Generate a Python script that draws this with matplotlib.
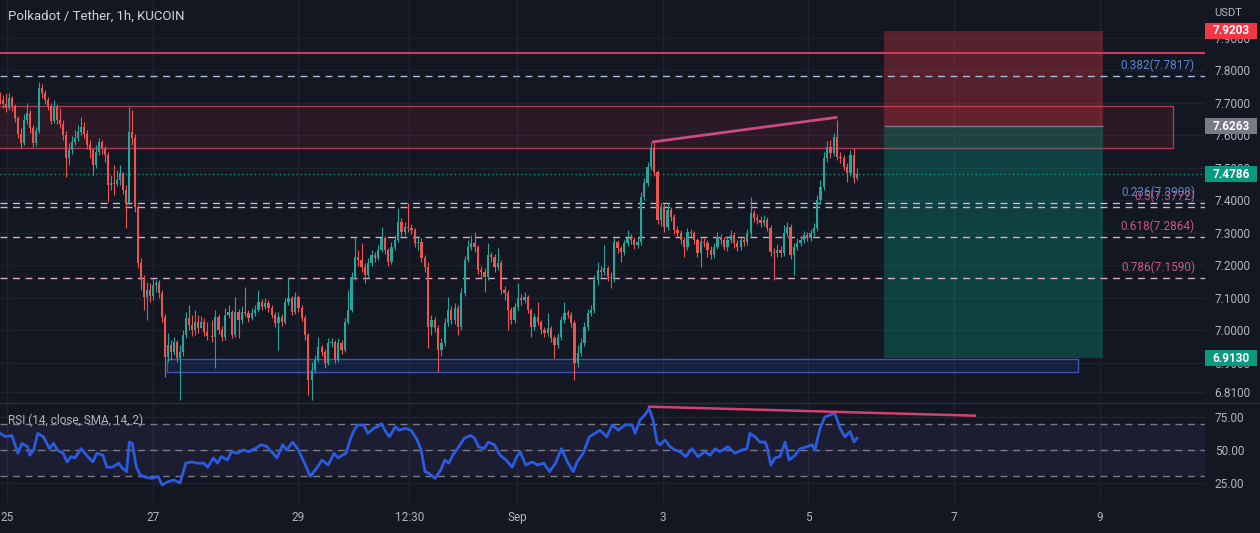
import numpy as np
import matplotlib
matplotlib.use("Agg")
import matplotlib.pyplot as plt
from matplotlib.patches import Rectangle
from matplotlib.lines import Line2D

plt.rcParams['font.family'] = ['Roboto', 'DejaVu Sans']

# ---- data (1h candles, DOT/USDT) ----
first_open = 7.717
closes = [
    7.708, 7.695, 7.683, 7.714, 7.689, 7.652, 7.603, 7.575, 7.646, 7.668,
    7.622, 7.575, 7.612, 7.745, 7.729, 7.708, 7.689, 7.643, 7.686, 7.646,
    7.634, 7.600, 7.529, 7.554, 7.578, 7.591, 7.609, 7.625, 7.603, 7.569,
    7.554, 7.508, 7.548, 7.578, 7.557, 7.538, 7.446, 7.452, 7.449, 7.462,
    7.483, 7.431, 7.391, 7.609, 7.591, 7.378, 7.206, 7.154, 7.102, 7.123,
    7.105, 7.138, 7.145, 7.114, 7.040, 6.917, 6.954, 6.932, 6.963, 6.914,
    6.932, 6.985, 7.037, 7.015, 7.000, 7.025, 7.006, 7.025, 6.994, 6.982,
    6.978, 7.040, 7.000, 6.978, 7.046, 7.055, 6.985, 7.055, 7.031, 7.055,
    7.052, 7.037, 7.052, 7.062, 7.086, 7.071, 7.083, 7.068, 7.046, 7.022,
    7.040, 7.025, 7.086, 7.098, 7.055, 7.102, 7.068, 7.037, 6.985, 6.846,
    6.877, 6.908, 6.948, 6.932, 6.898, 6.960, 6.963, 6.908, 6.960, 6.938,
    7.025, 7.062, 7.163, 7.225, 7.215, 7.194, 7.169, 7.206, 7.231, 7.222,
    7.246, 7.283, 7.246, 7.209, 7.255, 7.277, 7.332, 7.302, 7.317, 7.314,
    7.308, 7.268, 7.271, 7.222, 7.194, 7.009, 7.031, 7.006, 6.938, 6.960,
    7.022, 7.062, 7.031, 7.068, 7.009, 7.114, 7.215, 7.255, 7.268, 7.255,
    7.185, 7.178, 7.163, 7.231, 7.225, 7.194, 7.206, 7.123, 7.114, 7.062,
    7.031, 7.071, 7.098, 7.092, 7.102, 7.062, 7.009, 7.040, 7.025, 7.000,
    6.991, 7.006, 6.975, 6.954, 6.978, 7.031, 7.052, 7.046, 7.022, 6.898,
    6.929, 6.960, 7.009, 7.052, 7.062, 7.154, 7.185, 7.178, 7.191, 7.163,
    7.160, 7.271, 7.252, 7.240, 7.268, 7.283, 7.277, 7.262, 7.271,
    7.409, 7.452, 7.502, 7.560, 7.486, 7.338, 7.378, 7.317, 7.369, 7.348, 7.308,
    7.298, 7.277, 7.255, 7.302, 7.298, 7.277, 7.237, 7.271, 7.268, 7.246,
    7.231, 7.255, 7.286, 7.277, 7.255, 7.277, 7.292, 7.268, 7.255, 7.277,
    7.271, 7.298, 7.360, 7.345, 7.338, 7.329, 7.338, 7.314, 7.240, 7.237,
    7.246, 7.237, 7.298, 7.317, 7.231, 7.255, 7.268, 7.277, 7.292, 7.283,
    7.298, 7.314, 7.400, 7.440, 7.529, 7.563, 7.545, 7.594, 7.532, 7.529,
    7.502, 7.483, 7.538, 7.468, 7.4786]
highs = [
    7.732, 7.723, 7.729, 7.729, 7.720, 7.695, 7.658, 7.622, 7.665, 7.699,
    7.677, 7.631, 7.625, 7.763, 7.757, 7.738, 7.717, 7.699, 7.708, 7.695,
    7.683, 7.646, 7.612, 7.575, 7.597, 7.615, 7.631, 7.655, 7.640, 7.615,
    7.585, 7.560, 7.569, 7.591, 7.585, 7.566, 7.548, 7.477, 7.508, 7.492,
    7.508, 7.486, 7.446, 7.686, 7.677, 7.603, 7.385, 7.222, 7.169, 7.148,
    7.145, 7.160, 7.154, 7.154, 7.123, 7.049, 6.991, 6.969, 6.978, 6.969,
    6.954, 7.000, 7.055, 7.077, 7.046, 7.062, 7.046, 7.043, 7.037, 7.025,
    7.031, 7.062, 7.049, 7.012, 7.068, 7.077, 7.062, 7.102, 7.065, 7.074,
    7.132, 7.062, 7.068, 7.077, 7.123, 7.095, 7.098, 7.092, 7.077, 7.055,
    7.055, 7.049, 7.098, 7.160, 7.105, 7.117, 7.108, 7.077, 7.046, 6.991,
    6.902, 6.923, 6.978, 6.954, 6.942, 6.975, 6.975, 6.969, 6.975, 6.969,
    7.037, 7.123, 7.178, 7.286, 7.246, 7.268, 7.206, 7.222, 7.246, 7.240,
    7.262, 7.317, 7.289, 7.252, 7.271, 7.292, 7.375, 7.345, 7.332, 7.391,
    7.326, 7.314, 7.289, 7.283, 7.231, 7.209, 7.046, 7.040, 7.015, 6.975,
    7.037, 7.102, 7.074, 7.083, 7.077, 7.129, 7.228, 7.277, 7.292, 7.302,
    7.262, 7.197, 7.191, 7.268, 7.240, 7.234, 7.252, 7.215, 7.135, 7.123,
    7.071, 7.083, 7.145, 7.111, 7.117, 7.108, 7.068, 7.052, 7.086, 7.031,
    7.009, 7.052, 7.012, 6.985, 6.991, 7.043, 7.086, 7.062, 7.055, 7.031,
    6.954, 6.975, 7.025, 7.065, 7.077, 7.169, 7.209, 7.197, 7.262, 7.197,
    7.178, 7.283, 7.277, 7.258, 7.277, 7.308, 7.295, 7.286, 7.286,
    7.425, 7.468, 7.517, 7.578, 7.578, 7.492, 7.394, 7.388, 7.391, 7.378, 7.357,
    7.320, 7.308, 7.286, 7.314, 7.311, 7.305, 7.283, 7.283, 7.283, 7.277,
    7.258, 7.268, 7.302, 7.295, 7.286, 7.289, 7.308, 7.302, 7.277, 7.289,
    7.286, 7.311, 7.409, 7.369, 7.357, 7.351, 7.354, 7.348, 7.323, 7.252,
    7.265, 7.258, 7.323, 7.332, 7.326, 7.268, 7.283, 7.289, 7.305, 7.302,
    7.311, 7.329, 7.415, 7.462, 7.548, 7.582, 7.585, 7.606, 7.646, 7.548,
    7.538, 7.514, 7.554, 7.560, 7.498]
lows = [
    7.695, 7.683, 7.671, 7.677, 7.674, 7.640, 7.591, 7.560, 7.569, 7.634,
    7.606, 7.563, 7.566, 7.606, 7.714, 7.695, 7.677, 7.634, 7.637, 7.634,
    7.622, 7.585, 7.471, 7.508, 7.542, 7.569, 7.582, 7.600, 7.591, 7.557,
    7.529, 7.477, 7.498, 7.538, 7.542, 7.517, 7.394, 7.431, 7.415, 7.443,
    7.446, 7.418, 7.314, 7.385, 7.569, 7.363, 7.191, 7.123, 7.062, 7.031,
    7.086, 7.092, 7.117, 7.098, 7.025, 6.855, 6.902, 6.908, 6.923, 6.902,
    6.785, 6.920, 6.975, 7.000, 6.982, 6.985, 6.991, 7.006, 6.982, 6.969,
    6.963, 6.883, 6.988, 6.966, 6.969, 7.037, 6.975, 6.978, 6.975, 7.018,
    7.043, 7.025, 7.031, 7.043, 7.055, 7.062, 7.065, 7.055, 7.037, 7.009,
    6.938, 7.012, 7.018, 7.077, 7.046, 7.049, 7.055, 7.028, 6.969, 6.800,
    6.785, 6.868, 6.902, 6.920, 6.883, 6.892, 6.948, 6.898, 6.902, 6.926,
    6.932, 7.018, 7.055, 7.154, 7.197, 7.178, 7.145, 7.160, 7.197, 7.209,
    7.215, 7.240, 7.234, 7.197, 7.203, 7.246, 7.271, 7.289, 7.292, 7.302,
    7.295, 7.255, 7.246, 7.209, 7.178, 6.945, 6.985, 6.994, 6.871, 6.920,
    6.951, 7.012, 7.018, 7.018, 6.985, 7.000, 7.105, 7.209, 7.246, 7.240,
    7.172, 7.160, 7.117, 7.154, 7.209, 7.178, 7.185, 7.111, 7.092, 7.000,
    7.018, 7.022, 7.062, 7.077, 7.083, 7.052, 6.978, 7.000, 7.015, 6.988,
    6.978, 6.982, 6.963, 6.914, 6.945, 6.969, 7.022, 7.037, 7.009, 6.846,
    6.886, 6.920, 6.951, 7.000, 7.043, 7.052, 7.138, 7.163, 7.169, 7.151,
    7.129, 7.148, 7.237, 7.209, 7.231, 7.258, 7.265, 7.249, 7.252,
    7.262, 7.400, 7.443, 7.492, 7.474, 7.326, 7.320, 7.302, 7.308, 7.335, 7.295,
    7.283, 7.265, 7.225, 7.246, 7.286, 7.265, 7.225, 7.194, 7.255, 7.225,
    7.218, 7.222, 7.249, 7.265, 7.246, 7.243, 7.268, 7.252, 7.243, 7.246,
    7.258, 7.262, 7.289, 7.332, 7.326, 7.317, 7.320, 7.305, 7.228, 7.154,
    7.225, 7.225, 7.228, 7.289, 7.218, 7.169, 7.246, 7.258, 7.268, 7.274,
    7.274, 7.289, 7.305, 7.388, 7.431, 7.517, 7.529, 7.535, 7.523, 7.514,
    7.492, 7.455, 7.474, 7.452, 7.462]

# where some candles sit in time (hours since Aug 25 00:00)
anchor_bars = [0, 69, 70, 264]
anchor_hours = [-2.3, 65.9, 67.5, 280.0]

rsi_hours = [
    -2.3, -0.4, 1.6, 3.6, 4.9, 6.8, 7.5, 8.8, 10.1, 12.0,
    14.0, 15.3, 16.6, 18.5, 19.8, 21.1, 22.4, 24.4, 25.7, 27.0,
    28.3, 29.6, 31.6, 32.9, 34.8, 36.8, 38.1, 39.4, 40.3, 41.3,
    42.6, 43.9, 45.9, 47.8, 49.8, 51.1, 53.0, 55.0, 57.0, 58.9,
    60.9, 62.8, 64.8, 66.1, 68.0, 69.3, 70.6, 72.6, 73.9, 75.8,
    77.8, 79.7, 81.7, 83.7, 85.6, 87.6, 88.9, 90.8, 92.1, 94.1,
    96.0, 98.0, 99.9, 101.9, 103.8, 105.8, 107.7, 109.0, 110.4, 111.7,
    113.0, 114.3, 115.6, 117.5, 118.8, 120.8, 122.1, 123.4, 124.7, 126.0,
    127.9, 129.2, 131.2, 133.1, 135.1, 136.4, 137.7, 139.0, 141.0, 142.9,
    144.2, 145.5, 146.8, 148.8, 150.7, 152.7, 154.0, 155.3, 157.2, 158.5,
    160.5, 162.4, 164.4, 166.4, 167.7, 169.0, 170.9, 172.9, 174.8, 176.8,
    178.7, 180.7, 182.6, 184.6, 186.5, 187.8, 189.8, 191.8, 193.7,
    195.3, 197.6, 199.3, 201.3, 203.6, 205.9, 206.9, 208.5, 210.1, 211.5,
    212.8, 214.1, 215.1, 216.7, 218.4, 220.0, 221.7, 223.6, 225.6, 227.6,
    229.9, 231.6, 233.2, 234.8, 237.5, 239.8, 242.1, 243.7, 244.7, 246.4,
    248.0, 249.7, 250.3, 251.6, 253.0, 254.6, 256.3, 257.6, 259.6, 261.2,
    263.5, 265.2, 266.1, 267.8, 269.4, 271.1, 272.7, 274.4, 276.0, 277.7,
    279.0, 280.0]
rsi_values = [
    62.6, 60, 61, 47.5, 55, 52.5, 46, 50, 62.6, 60,
    51, 55, 50, 47.5, 41, 45, 44, 51, 47.5, 44,
    41, 47.5, 46, 37, 37, 40, 36, 33.6, 56, 55,
    37, 31, 29.3, 28.5, 30, 23.5, 26, 27.3, 25, 40,
    41, 40, 40, 37, 44, 40, 45, 42.4, 48.7, 47.5,
    50, 48.7, 51, 54, 52.5, 47.5, 44, 54, 50, 56,
    50, 40, 30, 36, 42.4, 38.6, 47.5, 44, 46, 47.5,
    57.6, 65, 69, 69, 62.6, 66.4, 67.7, 70, 64, 60,
    67.7, 65, 66.4, 65, 57.6, 50, 33.6, 32.3, 28.5, 35,
    42.4, 40, 46, 52.5, 59, 61, 59, 52.5, 51, 56,
    54, 46, 42.4, 37, 44, 48.7, 38.6, 41, 38.6, 40,
    33.6, 40, 51, 41, 33.6, 41, 47.5, 60, 62.6,
    65, 60, 69, 65, 69, 69, 62.6, 72.7, 76.5, 81.5,
    72.7, 56, 54, 57.6, 52.5, 50, 48.7, 45, 51, 45,
    48.7, 46, 51, 48.7, 52.5, 47.5, 50, 51, 62.6, 60,
    56, 56, 52.5, 38.6, 44, 45, 56, 42.4, 46, 51,
    52.5, 54, 50, 66.4, 75, 76.5, 77.8, 66.4, 60, 64,
    56, 59]

time_ticks = [0, 48, 96, 132.5, 168, 216, 264, 312, 360]
time_labels = ['25', '27', '29', '12:30', 'Sep', '3', '5', '7', '9']
price_ticks = [7.9, 7.8, 7.7, 7.6, 7.5, 7.4, 7.3, 7.2, 7.1, 7.0, 6.9, 6.81]
rsi_ticks = [75, 50, 25]

fib_ratios = ['0.382', '0.236', '0.5', '0.618', '0.786']
fib_prices = [7.7817, 7.3908, 7.3772, 7.2864, 7.1590]
fib_line_colors = ['#a9b8dc', '#b4c2e6', '#dcaac6', '#dcaac6', '#dcaac6']
fib_text_colors = ['#5b86cc', '#5b86cc', '#c8568b', '#c8568b', '#c8568b']

resist_zone = (7.560, 7.689)      # low, high
resist_end = 384.1
support_zone = (6.871, 6.911)
support_span = (52.7, 352.8)
red_level = 7.852
pos_span = (288.9, 361.0)
pos_stop, pos_entry, pos_target = 7.9203, 7.6263, 6.9130
price_trend_t = [212.9, 273.1]
price_trend_p = [7.579, 7.654]
rsi_trend_t = [211.5, 318.8]
rsi_trend_v = [82.8, 76.0]

BG = '#131722'
GRID = '#1f2330'
TXT = '#b2b5be'
UP = '#26a69a'
DOWN = '#ef5350'

fig = plt.figure(figsize=(12.6, 5.33), dpi=100, facecolor=BG)
W, H = 1260, 533
ax = fig.add_axes([0, 1 - 402 / H, 1205 / W, 402 / H])
ax2 = fig.add_axes([0, 1 - 503 / H, 1205 / W, 100 / H], sharex=ax)

for a in (ax, ax2):
    a.set_facecolor(BG)
    for s in a.spines.values():
        s.set_visible(False)
    a.yaxis.tick_right()
    a.tick_params(axis='both', length=0, labelsize=8.5, labelcolor=TXT)
    a.tick_params(axis='y', pad=7)
    a.grid(True, color=GRID, lw=1)
    a.set_axisbelow(True)

ax.set_xlim(-2.3, 394.6)
ax.set_ylim(6.7785, 8.0154)
ax2.set_ylim(9.85, 85.6)

# candles
c = np.array(closes)
hi = np.array(highs)
lo = np.array(lows)
n = len(c)
t = np.interp(np.arange(n), anchor_bars, anchor_hours)
o = np.r_[first_open, c[:-1]]
hi = np.maximum(hi, np.maximum(o, c))
lo = np.minimum(lo, np.minimum(o, c))
cols = np.where(c >= o, UP, DOWN)
ax.vlines(t, lo, hi, colors=cols, lw=0.8, zorder=4)
ax.bar(t, np.maximum(np.abs(c - o), 0.0015), bottom=np.minimum(o, c),
       width=0.75, color=cols, lw=0, zorder=4)

# zones
ax.add_patch(Rectangle((-20, resist_zone[0]), resist_end + 20, resist_zone[1] - resist_zone[0],
                       facecolor=('#f23645', 0.1), edgecolor='#b03a52', lw=1, zorder=2))
ax.add_patch(Rectangle((support_span[0], support_zone[0]), support_span[1] - support_span[0],
                       support_zone[1] - support_zone[0],
                       facecolor=('#2962ff', 0.12), edgecolor='#3a56b0', lw=1, zorder=2))
ax.add_patch(Rectangle((pos_span[0], pos_entry), pos_span[1] - pos_span[0], pos_stop - pos_entry,
                       facecolor=('#f23645', 0.3), edgecolor='none', zorder=2))
ax.add_patch(Rectangle((pos_span[0], pos_target), pos_span[1] - pos_span[0], pos_entry - pos_target,
                       facecolor=('#089981', 0.32), edgecolor='none', zorder=2))
ax.hlines(pos_entry, pos_span[0], pos_span[1], color='#787b86', lw=1, zorder=3)

# horizontal levels
ax.axhline(red_level, color='#cc3d5c', lw=1.5, zorder=3)
for ratio, p, lc, tc in zip(fib_ratios, fib_prices, fib_line_colors, fib_text_colors):
    ax.axhline(p, color=lc, lw=1, ls=(0, (5, 4)), zorder=3)
    ax.annotate(f'{ratio}({p:.4f})', xy=(391.3, p), xytext=(0, 3),
                textcoords='offset points', ha='right', va='bottom',
                color=tc, fontsize=8.5, zorder=5)
ax.axhline(c[-1], color='#089981', lw=1, ls=(0, (1, 2)), zorder=3)

# trendlines
ax.plot(price_trend_t, price_trend_p, color='#cc4a82', lw=2, zorder=5)

# price scale
ax.set_yticks(price_ticks)
ax.set_yticklabels([f'{v:.4f}' for v in price_ticks])
ax.tick_params(axis='x', labelbottom=False)


def price_tag(value, face):
    tr = ax.get_yaxis_transform()
    ax.add_patch(Rectangle((1.0, value - 0.0246), 0.0432, 0.0492, transform=tr,
                           facecolor=face, edgecolor='none', clip_on=False, zorder=10))
    ax.text(1.0216, value, f'{value:.4f}', transform=tr, ha='center', va='center',
            color='white', fontsize=8.5, fontweight='bold', zorder=11, clip_on=False)


price_tag(pos_stop, '#f23645')
price_tag(pos_entry, '#787b86')
price_tag(c[-1], '#089981')
price_tag(pos_target, '#089981')

# RSI pane
ax2.axhspan(30, 70, color='#7e57c2', alpha=0.1, lw=0)
for lvl in (70, 50, 30):
    ax2.axhline(lvl, color='#787b86', lw=1, ls=(0, (5, 4)))
ax2.plot(rsi_hours, rsi_values, color='#2a5be0', lw=2, zorder=4)
ax2.plot(rsi_trend_t, rsi_trend_v, color='#d6406f', lw=1.8, zorder=5)
ax2.set_yticks(rsi_ticks)
ax2.set_yticklabels([f'{v:.2f}' for v in rsi_ticks])
ax2.set_xticks(time_ticks)
ax2.set_xticklabels(time_labels)
ax2.tick_params(axis='x', pad=6)

fig.add_artist(Line2D([0, 1], [1 - 402.5 / H] * 2, color='#2a2e39', lw=1))
fig.text(8 / W, 1 - 16 / H, 'Polkadot / Tether, 1h, KUCOIN', color='#d1d4dc',
         fontsize=9.5, va='center')
fig.text(8 / W, 1 - 420 / H, 'RSI (14, close, SMA, 14, 2)', color=TXT,
         fontsize=8.5, va='center')
fig.text(1228 / W, 1 - 13 / H, 'USDT', color=TXT, fontsize=8, va='center', ha='center')

fig.savefig('out.png', dpi=100, facecolor=BG)
